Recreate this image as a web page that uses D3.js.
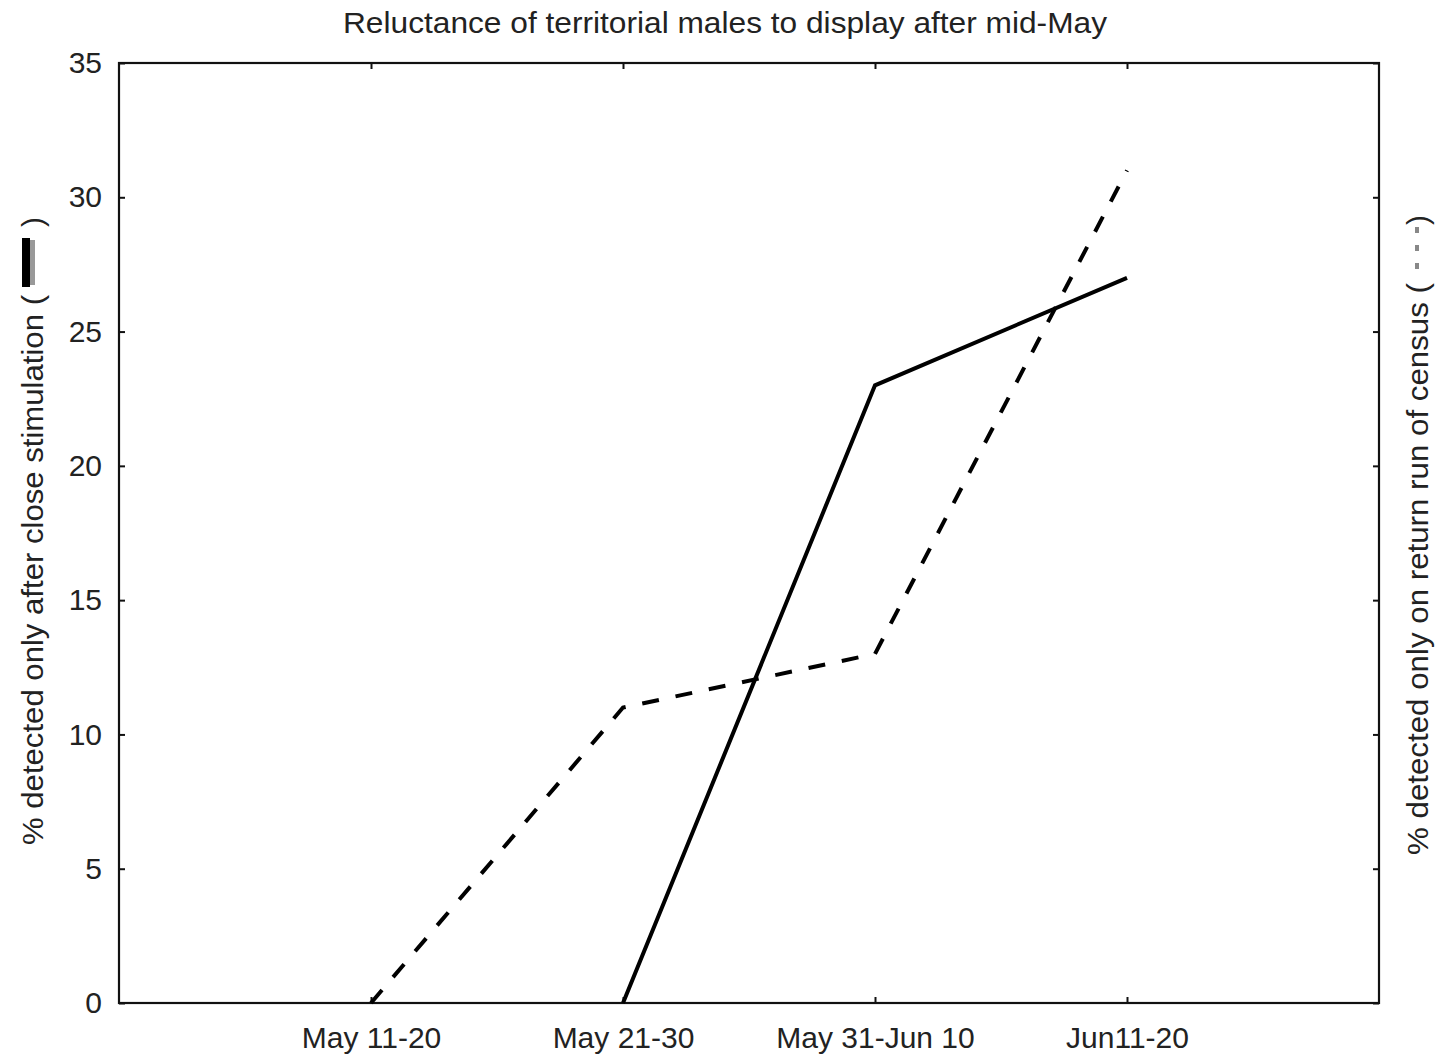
<!DOCTYPE html>
<html>
<head>
<meta charset="utf-8">
<script src="https://cdn.jsdelivr.net/npm/d3@7"></script>
<style>
  html, body { margin: 0; padding: 0; background: #fff; }
  svg text { font-family: "Liberation Sans", Arial, sans-serif; fill: #222; }
</style>
</head>
<body>
<svg id="chart" width="1437" height="1058"></svg>
<script>
// Census periods and the two percentages recorded for each
const periods = ["May 11-20", "May 21-30", "May 31-Jun 10", "Jun11-20"];
// % detected only after close stimulation (solid); first period has no value
const stimulated = [null, 0, 23, 27];
// % detected only on the return run of the census (dashed)
const returnRun = [0, 11, 13, 31];
const yTicks = [0, 5, 10, 15, 20, 25, 30, 35];

const W = 1437, H = 1058;
const margin = { left: 119, top: 63, right: 1437 - 1379, bottom: 1058 - 1003 };

const svg = d3.select("#chart");
svg.append("rect").attr("width", W).attr("height", H).attr("fill", "#fff");

const x = d3.scalePoint()
  .domain(periods)
  .range([margin.left, W - margin.right])
  .padding(1);

const y = d3.scaleLinear()
  .domain([0, 35])
  .range([H - margin.bottom, margin.top]);

const tick = 6;

// Axes with inward ticks
const gBottom = svg.append("g")
  .attr("transform", `translate(0,${H - margin.bottom})`)
  .call(d3.axisBottom(x).tickSizeInner(-tick).tickSizeOuter(0).tickPadding(18));
gBottom.selectAll("text").attr("font-size", 30).attr("dy", "0.9em");

const gTop = svg.append("g")
  .attr("transform", `translate(0,${margin.top})`)
  .call(d3.axisTop(x).tickSizeInner(-tick).tickSizeOuter(0).tickFormat(""));

const gLeft = svg.append("g")
  .attr("transform", `translate(${margin.left},0)`)
  .call(d3.axisLeft(y).tickValues(yTicks).tickSizeInner(-tick).tickSizeOuter(0).tickPadding(17));
gLeft.selectAll("text").attr("font-size", 30);

const gRight = svg.append("g")
  .attr("transform", `translate(${W - margin.right},0)`)
  .call(d3.axisRight(y).tickValues(yTicks).tickSizeInner(-tick).tickSizeOuter(0).tickFormat(""));

svg.selectAll(".domain").remove();
svg.selectAll(".tick line").attr("stroke", "#111").attr("stroke-width", 2);

// Plot frame
svg.append("rect")
  .attr("x", margin.left)
  .attr("y", margin.top)
  .attr("width", W - margin.left - margin.right)
  .attr("height", H - margin.top - margin.bottom)
  .attr("fill", "none")
  .attr("stroke", "#111")
  .attr("stroke-width", 2.2);

// Series lines
const line = d3.line()
  .defined(d => d.v !== null)
  .x(d => x(d.p))
  .y(d => y(d.v));

svg.append("path")
  .datum(periods.map((p, i) => ({ p, v: returnRun[i] })))
  .attr("d", line)
  .attr("fill", "none")
  .attr("stroke", "#000")
  .attr("stroke-width", 4)
  .attr("stroke-dasharray", "17,17");

svg.append("path")
  .datum(periods.map((p, i) => ({ p, v: stimulated[i] })))
  .attr("d", line)
  .attr("fill", "none")
  .attr("stroke", "#000")
  .attr("stroke-width", 4);

// Title
svg.append("text")
  .attr("x", 725)
  .attr("y", 33)
  .attr("text-anchor", "middle")
  .attr("font-size", 29)
  .attr("textLength", 764)
  .attr("lengthAdjust", "spacingAndGlyphs")
  .text("Reluctance of territorial males to display after mid-May");

// Left axis title with a solid-line key
const leftLen = 550;
const leftG = svg.append("g").attr("transform", "translate(43,845) rotate(-90)");
leftG.append("text")
  .attr("x", 0).attr("y", 0)
  .attr("font-size", 30)
  .attr("textLength", leftLen)
  .attr("lengthAdjust", "spacingAndGlyphs")
  .text("% detected only after close stimulation (");
leftG.append("rect")
  .attr("x", leftLen + 8).attr("y", -21)
  .attr("width", 49).attr("height", 8)
  .attr("fill", "#000");
leftG.append("rect")
  .attr("x", leftLen + 10).attr("y", -13)
  .attr("width", 45).attr("height", 5)
  .attr("fill", "#999");
leftG.append("text")
  .attr("x", leftLen + 68).attr("y", 0)
  .attr("font-size", 30)
  .text(")");

// Right axis title with a dashed-line key
const rightLen = 572;
const rightG = svg.append("g").attr("transform", "translate(1428,855) rotate(-90)");
rightG.append("text")
  .attr("x", 0).attr("y", 0)
  .attr("font-size", 30)
  .attr("textLength", rightLen)
  .attr("lengthAdjust", "spacingAndGlyphs")
  .text("% detected only on return run of census (");
rightG.selectAll("rect.key")
  .data([0, 1, 2])
  .join("rect")
  .attr("class", "key")
  .attr("x", d => rightLen + 14 + d * 18).attr("y", -13)
  .attr("width", 6).attr("height", 4)
  .attr("fill", "#888");
rightG.append("text")
  .attr("x", rightLen + 58).attr("y", 0)
  .attr("font-size", 30)
  .text(")");
</script>
</body>
</html>
